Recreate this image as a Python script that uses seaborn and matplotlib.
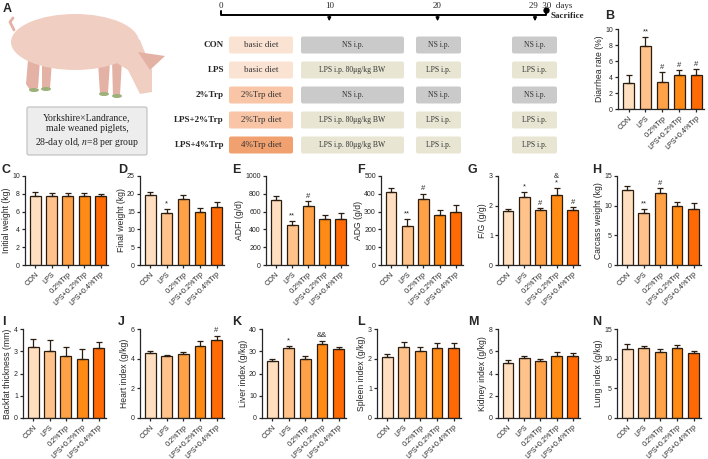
import seaborn as sns
import matplotlib.pyplot as plt
from matplotlib.patches import FancyBboxPatch, Ellipse, Polygon
import pandas as pd
import numpy as np

sns.set_style("ticks")
plt.rcParams['font.family'] = ['Liberation Sans', 'DejaVu Sans']
plt.rcParams['mathtext.fontset'] = 'stix'

W, H = 708, 459

groups = ["CON", "LPS", "0.2%Trp", "LPS+0.2%Trp", "LPS+0.4%Trp"]
palette = ["#FFDFBF", "#FFC28A", "#FFA247", "#FF8A14", "#FF6A05"]

# design (panel A)
design_groups = ["CON", "LPS", "2%Trp", "LPS+2%Trp", "LPS+4%Trp"]
diets = ["basic diet", "basic diet", "2%Trp diet", "2%Trp diet", "4%Trp diet"]
diet_colors = ["#FBE3D3", "#FBE3D3", "#F8C5A6", "#F8C5A6", "#F1A06F"]
first_shot = ["NS i.p.", "LPS i.p. 80\u03bcg/kg BW", "NS i.p.", "LPS i.p. 80\u03bcg/kg BW", "LPS i.p. 80\u03bcg/kg BW"]
later_shot = ["NS i.p.", "LPS i.p.", "NS i.p.", "LPS i.p.", "LPS i.p."]
timeline_days = [0, 10, 20, 29, 30]

# panel values: mean, sd, marks
diarrhea = [3.3, 7.9, 3.4, 4.3, 4.2]
diarrhea_sd = [0.9, 1.1, 1.2, 0.6, 0.8]
diarrhea_marks = ["", "**", "#", "#", "#"]

initial_wt = [7.8, 7.75, 7.75, 7.75, 7.75]
initial_wt_sd = [0.35, 0.35, 0.3, 0.35, 0.2]

final_wt = [19.7, 14.5, 18.5, 15.0, 16.3]
final_wt_sd = [0.9, 1.2, 1.2, 1.1, 1.4]
final_wt_marks = ["", "*", "", "", ""]

adfi = [725, 455, 665, 520, 520]
adfi_sd = [45, 45, 50, 45, 60]
adfi_marks = ["", "**", "#", "", ""]

adg = [410, 220, 370, 280, 295]
adg_sd = [25, 40, 30, 28, 40]
adg_marks = ["", "**", "#", "", ""]

fg = [1.83, 2.3, 1.85, 2.35, 1.86]
fg_sd = [0.07, 0.17, 0.07, 0.25, 0.09]
fg_marks = ["", "*", "#", "&\n*", "#"]

carcass = [12.7, 8.8, 12.1, 10.0, 9.5]
carcass_sd = [0.6, 0.7, 0.8, 0.7, 1.0]
carcass_marks = ["", "**", "#", "", ""]

backfat = [3.2, 3.0, 2.8, 2.67, 3.15]
backfat_sd = [0.35, 0.5, 0.4, 0.45, 0.25]

heart = [4.35, 4.15, 4.3, 4.85, 5.25]
heart_sd = [0.2, 0.12, 0.15, 0.35, 0.3]
heart_marks = ["", "", "", "", "#"]

liver = [25.8, 31.3, 26.5, 33.1, 31.0]
liver_sd = [0.9, 1.2, 1.3, 1.6, 1.0]
liver_marks = ["", "*", "", "&&", ""]

spleen = [2.05, 2.4, 2.25, 2.35, 2.37]
spleen_sd = [0.12, 0.17, 0.15, 0.17, 0.17]

kidney = [4.95, 5.35, 5.15, 5.6, 5.6]
kidney_sd = [0.25, 0.2, 0.18, 0.3, 0.25]

lung = [11.7, 11.8, 11.2, 11.85, 10.9]
lung_sd = [0.7, 0.4, 0.5, 0.45, 0.35]

none = [""] * 5

panels = [
    # letter, letter pos, axes rect (left, top, w, h) px, ylabel, mean, sd, marks, ymax, step
    ("B", (605, 10), (618, 29, 86, 80), "Diarrhea rate (%)", diarrhea, diarrhea_sd, diarrhea_marks, 10, 2),
    ("C", (2, 164), (25, 176, 83, 89), "Initial weight (kg)", initial_wt, initial_wt_sd, none, 10, 2),
    ("D", (118, 164), (140, 176, 84, 89), "Final weight (kg)", final_wt, final_wt_sd, final_wt_marks, 25, 5),
    ("E", (232, 164), (266, 176, 82, 89), "ADFI (g/d)", adfi, adfi_sd, adfi_marks, 1000, 200),
    ("F", (357, 164), (381, 176, 82, 89), "ADG (g/d)", adg, adg_sd, adg_marks, 500, 100),
    ("G", (468, 164), (498, 176, 82, 89), "F/G (g/g)", fg, fg_sd, fg_marks, 3, 1),
    ("H", (592, 164), (617, 176, 84, 89), "Carcass weight (kg)", carcass, carcass_sd, carcass_marks, 15, 5),
    ("I", (2, 316), (23, 329, 83, 89), "Backfat thickness (mm)", backfat, backfat_sd, none, 4, 1),
    ("J", (118, 316), (140, 329, 84, 89), "Heart index (g/kg)", heart, heart_sd, heart_marks, 6, 2),
    ("K", (232, 316), (262, 329, 84, 89), "Liver index (g/kg)", liver, liver_sd, liver_marks, 40, 10),
    ("L", (357, 316), (377, 329, 84, 89), "Spleen index (g/kg)", spleen, spleen_sd, none, 3, 1),
    ("M", (468, 316), (498, 329, 82, 89), "Kidney index (g/kg)", kidney, kidney_sd, none, 8, 2),
    ("N", (592, 316), (617, 329, 84, 89), "Lung index (g/kg)", lung, lung_sd, none, 15, 5),
]

fig = plt.figure(figsize=(W / 100, H / 100), dpi=100)

# overlay for panel A and letters, in pixel coordinates
ov = fig.add_axes([0, 0, 1, 1], zorder=0)
ov.set_xlim(0, W)
ov.set_ylim(H, 0)
ov.axis("off")

serif = ['Liberation Serif', 'DejaVu Serif']

# --- pig illustration ---
pink = "#F1CEC2"
pink_dark = "#E3B2A4"
for leg in [[(28, 60), (40, 60), (38, 88), (30, 90), (26, 84)],
            [(42, 62), (52, 62), (50, 88), (42, 88)],
            [(98, 62), (110, 62), (108, 93), (100, 94)],
            [(112, 60), (122, 60), (120, 95), (113, 96)]]:
    ov.add_patch(Polygon(leg, closed=True, fc=pink_dark, ec="none"))
for hoof in [(34, 90), (46, 89), (104, 94), (117, 96)]:
    ov.add_patch(Ellipse(hoof, 10, 4, fc="#9DB07A", ec="none"))
ov.add_patch(Ellipse((75, 42), 128, 56, fc=pink, ec="none"))
ov.add_patch(Polygon([(115, 25), (140, 40), (152, 70), (152, 92), (140, 94),
                      (128, 70), (112, 60)], closed=True, fc=pink, ec="none"))
ov.add_patch(Polygon([(138, 52), (165, 56), (150, 70)], closed=True, fc=pink_dark, ec="none"))
ov.plot([14, 10, 13], [30, 22, 18], color=pink_dark, lw=2, solid_capstyle="round")

# text box under pig
ov.add_patch(FancyBboxPatch((27, 107), 120, 48, boxstyle="round,pad=0,rounding_size=2",
                            fc="#EDEDED", ec="#BDBDBD", lw=0.8))
ov.text(87, 131, "Yorkshire\u00d7Landrance,\nmale weaned piglets,\n28-day old, $n$=8 per group",
        ha="center", va="center", fontsize=7, family=serif, linespacing=1.3, color="#222222")

# timeline
def day_x(d):
    return 221 + d * (535 - 221) / 29

ov.plot([day_x(0), day_x(0), day_x(30), day_x(30)], [11, 15, 15, 11], color="black", lw=1.4)
for d in timeline_days[1:4]:
    ov.annotate("", xy=(day_x(d), 24), xytext=(day_x(d), 14),
                arrowprops=dict(arrowstyle="-|>", color="black", lw=1.0, mutation_scale=5))
ov.plot(day_x(30), 10, "o", color="black", ms=3.5)
for d in timeline_days[:3]:
    ov.text(day_x(d), 6, str(d), ha="center", va="center", fontsize=6.5, family=serif)
ov.text(day_x(29) - 6, 6, "29  30  days", ha="left", va="center", fontsize=6.5, family=serif)
ov.text(day_x(30) + 5, 16, "Sacrifice", ha="left", va="center", fontsize=6.5,
        family=serif, fontweight="bold")

row_y = [45, 70, 95, 120, 145]
for i, y in enumerate(row_y):
    ov.text(224, y, design_groups[i], ha="right", va="center", fontsize=6.5,
            family=serif, fontweight="bold")
    boxes = [(229, 293, diets[i], diet_colors[i]),
             (301, 404, first_shot[i], "#CACACA" if "NS" in first_shot[i] else "#E8E6D3"),
             (416, 461, later_shot[i], "#CACACA" if "NS" in later_shot[i] else "#E8E6D3"),
             (512, 557, later_shot[i], "#CACACA" if "NS" in later_shot[i] else "#E8E6D3")]
    for x0, x1, label, col in boxes:
        ov.add_patch(FancyBboxPatch((x0, y - 8.5), x1 - x0, 17,
                                    boxstyle="round,pad=0,rounding_size=2", fc=col, ec="none"))
        fs = 6.5 if x0 == 229 else 5.5
        ov.text((x0 + x1) / 2, y, label, ha="center", va="center", fontsize=fs,
                family=serif, color="#333333")

ov.text(3, 3, "A", ha="left", va="top", fontsize=9, fontweight="bold")


def px_axes(left, top, w, h):
    return fig.add_axes([left / W, 1 - (top + h) / H, w / W, h / H], zorder=2)


for letter, lpos, rect, ylabel, mean, sd, marks, ymax, step in panels:
    ax = px_axes(*rect)
    df = pd.DataFrame({"group": groups, "value": mean})
    sns.barplot(data=df, x="group", y="value", hue="group", palette=palette,
                order=groups, hue_order=groups, legend=False, ax=ax, saturation=1,
                width=0.66, edgecolor="#2b1d10", linewidth=0.9, errorbar=None)
    xs = np.arange(len(groups))
    ax.errorbar(xs, mean, yerr=[np.zeros(len(sd)), sd], fmt="none", ecolor="#2b1d10",
                elinewidth=0.9, capsize=2.2, capthick=0.9, zorder=1)
    for i, m in enumerate(marks):
        if m:
            ax.text(i, mean[i] + sd[i] + ymax * 0.015, m, ha="center", va="bottom",
                    fontsize=5.5, linespacing=0.9)
    ax.set_ylim(0, ymax)
    ax.set_yticks(np.arange(0, ymax + step / 2, step))
    ax.set_xlim(-0.62, 4.45)
    ax.set_xlabel("")
    ax.set_ylabel(ylabel, fontsize=6.2, labelpad=1)
    ax.tick_params(axis="y", labelsize=5, width=0.9, length=2.5, pad=1.2)
    ax.tick_params(axis="x", labelsize=5.2, width=0.9, length=2.5, pad=1.5)
    ax.set_xticks(xs)
    ax.set_xticklabels(groups, rotation=45, ha="right", rotation_mode="anchor")
    sns.despine(ax=ax)
    for s in ["left", "bottom"]:
        ax.spines[s].set_linewidth(0.9)
    ov.text(lpos[0], lpos[1], letter, ha="left", va="top", fontsize=9, fontweight="bold")

fig.savefig("out.png", dpi=100)
plt.close()
